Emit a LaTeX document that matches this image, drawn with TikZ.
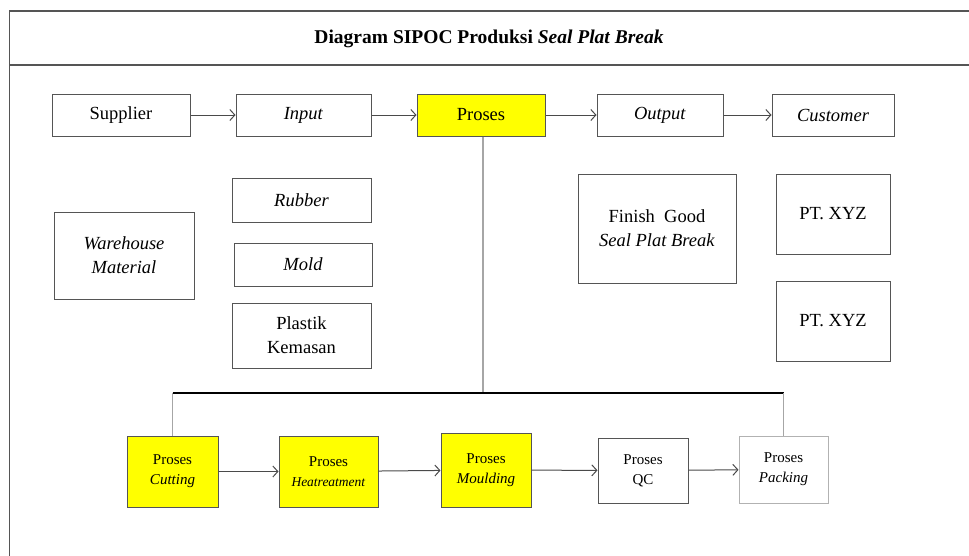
\documentclass[tikz,border=0pt]{standalone}
\usepackage{fontspec}
\setmainfont{Liberation Serif}
\usetikzlibrary{arrows.meta}
\definecolor{boxline}{HTML}{555555}
\definecolor{linkline}{HTML}{4A4A4A}
\definecolor{procyellow}{HTML}{FFFF00}
\tikzset{
  bx/.style={draw=boxline, line width=1pt, fill=white, inner sep=0pt, align=center, font=\fontsize{18.5}{24}\selectfont},
  smallbx/.style={bx, font=\fontsize{15}{20}\selectfont},
  yel/.style={fill=procyellow},
  link/.style={draw=linkline, line width=1pt, -{Straight Barb[length=5pt,width=11pt,line width=1pt]}},
  branch/.style={draw=gray!70, line width=1.2pt},
  frame/.style={draw=boxline, line width=1.2pt}
}
\begin{document}
\begin{tikzpicture}[x=1pt,y=-1pt]
\useasboundingbox (0,0) rectangle (969,555);
% frame
\coordinate (f1) at (9.5,560);
\coordinate (f2) at (9.5,11);
\coordinate (f3) at (975,11);
\coordinate (t1) at (9.5,65);
\coordinate (t2) at (975,65);
\draw[frame] (f1) -- (f2) -- (f3);
\draw[frame, line width=1.6pt] (t1) -- (t2);
\node[font=\fontsize{19.5}{22}\selectfont\bfseries] (title) at (489,39) {Diagram SIPOC Produksi \textit{Seal Plat Break}};
% top row
\node[bx, minimum width=138, minimum height=42] (sup) at (121,115) {Supplier};
\node[bx, minimum width=135, minimum height=42] (inp) at (303.5,115) {\textit{Input}};
\node[bx, yel, minimum width=128, minimum height=42] (pro) at (481,115) {Proses};
\node[bx, minimum width=126, minimum height=42] (out) at (660,115) {\textit{Output}};
\node[bx, minimum width=122, minimum height=42] (cus) at (833,115) {\textit{Customer}};
\draw[link] (sup) -- (inp);
\draw[link] (inp) -- (pro);
\draw[link] (pro) -- (out);
\draw[link] (out) -- (cus);
% middle
\node[bx, minimum width=140, minimum height=87] (wh) at (124,255.5) {\textit{Warehouse}\\\textit{Material}};
\node[bx, minimum width=139, minimum height=44] (rub) at (301.5,200) {\textit{Rubber}};
\node[bx, minimum width=138, minimum height=43] (mold) at (303,264.5) {\textit{Mold}};
\node[bx, minimum width=139, minimum height=65] (pla) at (301.5,335.5) {Plastik\\Kemasan};
\node[bx, minimum width=158, minimum height=109] (fin) at (657,228.5) {Finish~ Good\\\textit{Seal Plat Break}};
\node[bx, minimum width=114, minimum height=80] (pt1) at (833,214) {PT. XYZ};
\node[bx, minimum width=114, minimum height=80] (pt2) at (833,321) {PT. XYZ};
% bottom branch
\coordinate (hl) at (172.5,393);
\coordinate (hr) at (783.5,393);
\coordinate (hm) at (483,393);
\node[smallbx, yel, minimum width=91, minimum height=71] (cut) at (172.5,471.5) {Proses\\\textit{Cutting}};
\node[smallbx, yel, minimum width=99, minimum height=71] (heat) at (328.5,471.5) {Proses\\{\fontsize{13.5}{20}\selectfont\textit{Heatreatment}}};
\node[smallbx, yel, minimum width=90, minimum height=74] (mou) at (486,470) {Proses\\\textit{Moulding}};
\node[smallbx, minimum width=90, minimum height=65] (qc) at (643,470.5) {Proses\\QC};
\node[smallbx, draw=gray!60, minimum width=89, minimum height=67] (pac) at (783.5,469.5) {Proses\\\textit{Packing}};
\draw[branch] (pro.south -| hm) -- (hm);
\draw[draw=black, line width=1.6pt] (hl) -- (hr);
\draw[branch] (cut.north) -- (hl);
\draw[branch] (pac.north) -- (hr);
\draw[link] (cut) -- (heat);
\draw[link] (heat) -- (mou);
\draw[link] (mou) -- (qc);
\draw[link] (qc) -- (pac);
\end{tikzpicture}
\end{document}
